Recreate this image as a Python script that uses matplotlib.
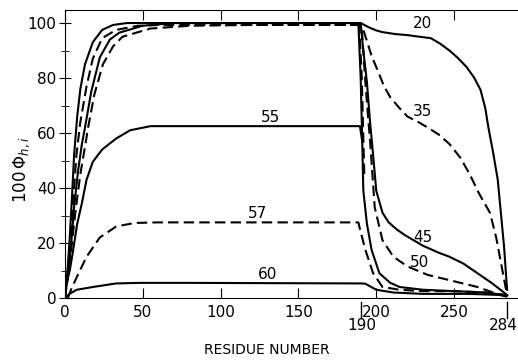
import matplotlib
matplotlib.use("Agg")
import matplotlib.pyplot as plt

# curvas (numero do residuo, 100*Phi)
x20 = [0, 1.5, 3, 4.5, 6, 8, 10, 13, 18, 24, 31, 40, 190, 195, 200, 204, 212, 220, 228, 235, 241,
       247, 252, 258, 263, 267, 270, 272, 275, 278, 280, 282, 284]
y20 = [0, 8, 20, 35, 52, 66, 76, 85, 93, 97.5, 99.3, 100, 100, 98.5, 97.3, 96.7, 96, 95.6, 95, 94.5,
       92.5, 90, 87.5, 84, 80, 75.6, 69, 62, 53, 43, 31, 19, 3]

x35 = [0, 2, 3.5, 5.5, 7.5, 10, 14, 18, 24, 33, 47, 60, 190, 192, 194, 197, 200, 205, 209, 215, 220,
       227, 233, 240, 247, 254, 260, 266, 273, 277, 280, 282, 284]
y35 = [0, 9, 20, 36, 52, 64, 77, 87, 94.5, 97.5, 99, 99.3, 99.3, 97, 93.5, 88, 84, 77, 73, 69, 66,
       64, 62, 59.5, 56, 51, 45, 38, 31, 22, 13, 7, 1]

x45 = [0, 2, 4, 6, 8.5, 11, 13, 17, 22.5, 29, 35, 50, 70, 190, 191.5, 194, 196, 197.5, 200, 204, 208,
       213, 218, 224, 230, 240, 247, 256, 265, 274, 282, 284]
y45 = [0, 8, 19, 33, 46, 56, 62, 75, 87.5, 94, 96.5, 99, 100, 100, 91, 78.5, 64, 55, 39, 31, 27.5,
       25, 23, 21, 19, 16.5, 15, 12.5, 9, 5.5, 2, 1]

x50 = [0, 2, 4, 7, 10, 13, 15, 19, 24.5, 31, 37, 55, 80, 120, 190, 191, 193, 195, 196, 199, 204, 211,
       220, 233, 247, 265, 280, 284]
y50 = [0, 7, 17, 32, 45, 55, 62, 74, 85, 91.5, 95, 98, 99, 99.3, 99.3, 95.6, 78.5, 64, 57.5, 33, 21,
       15, 11.5, 8.4, 6.5, 4, 1, 0.5]

x55 = [0, 1.3, 3.2, 5, 8, 11, 14, 18, 24, 33, 42, 55, 189.5, 191, 191.7, 194, 197, 202, 209, 215,
       230, 250, 270, 284]
y55 = [1, 6, 10, 16, 27, 34.5, 43, 49.5, 54, 58, 61, 62.5, 62.5, 57, 39, 27, 17.5, 9, 5.5, 4,
       3, 2.5, 2, 1]

x57 = [2, 4, 7.7, 14, 22.5, 33, 45, 60, 188.5, 190, 193, 198, 204, 215, 230, 250, 270, 284]
y57 = [0, 3, 7.6, 15, 22, 26, 27.3, 27.5, 27.5, 24, 17.5, 9, 4, 3, 2.5, 2.5, 2, 1]

x60 = [0, 3, 7.7, 18, 33, 48, 80, 190, 193, 200, 211, 230, 260, 284]
y60 = [0, 1.5, 3, 4, 5.3, 5.5, 5.5, 5.3, 5.2, 3, 2, 1.5, 1.5, 1]

# tracos verticais sem rotulo em 190
xq_cheio = [188.5, 190, 191]
yq_cheio = [100, 80, 57]
xq_trac = [189, 190.7, 192.3]
yq_trac = [100, 80, 45]

rotulos = ["20", "35", "45", "50", "55", "57", "60"]
rot_x = [229.5, 229.5, 230, 228, 132, 124, 130.5]
rot_y = [100, 68, 22, 13, 62.5, 27.5, 5.5]

plt.rcParams["font.size"] = 11

fig = plt.figure(figsize=(5.18, 3.61), dpi=100)
ax = fig.add_axes([0.125, 0.1745, 0.875, 0.7975])

lw = 1.5
dash = (0, (5, 2.5))
ax.plot(x20, y20, color="black", lw=lw)
ax.plot(x35, y35, color="black", lw=lw, linestyle=dash)
ax.plot(x45, y45, color="black", lw=lw)
ax.plot(x50, y50, color="black", lw=lw, linestyle=dash)
ax.plot(x55, y55, color="black", lw=lw)
ax.plot(x57, y57, color="black", lw=lw, linestyle=dash)
ax.plot(x60, y60, color="black", lw=lw)
ax.plot(xq_cheio, yq_cheio, color="black", lw=lw)
ax.plot(xq_trac, yq_trac, color="black", lw=lw, linestyle=dash)

for r, tx, ty in zip(rotulos, rot_x, rot_y):
    if r in ("55", "57", "60"):
        ax.text(tx, ty + 0.5, r, ha="center", va="bottom", fontsize=11)
    else:
        ax.text(tx, ty, r, ha="center", va="center", fontsize=11)

ax.set_xlim(0, 291)
ax.set_ylim(0, 104.7)
ax.spines["right"].set_visible(False)

ax.set_xticks([0, 50, 100, 150, 200, 250])
ax.set_yticks([0, 20, 40, 60, 80, 100])
ax.set_yticks(range(10, 100, 20), minor=True)
ax.tick_params(axis="x", direction="in", length=7, top=True, labeltop=False, pad=5)
ax.tick_params(axis="y", direction="inout", length=8, pad=2)
ax.tick_params(axis="y", which="minor", direction="inout", length=6)

# 190 e 284 com traco para baixo
for xv, xt in ((190, 191), (284, 281.5)):
    ax.plot([xv, xv], [-0.015, -0.07], color="black", lw=1.0,
            transform=ax.get_xaxis_transform(), clip_on=False)
    ax.text(xt, -0.095, str(xv), ha="center", va="center", fontsize=11,
            transform=ax.get_xaxis_transform())

fig.text(0.515, 0.03, "RESIDUE NUMBER", ha="center", va="center", fontsize=10)
fig.text(0.042, 0.53, r"$100\,\Phi_{h,i}$", ha="center", va="center", rotation=90, fontsize=12)

fig.savefig("out.png", dpi=100)
